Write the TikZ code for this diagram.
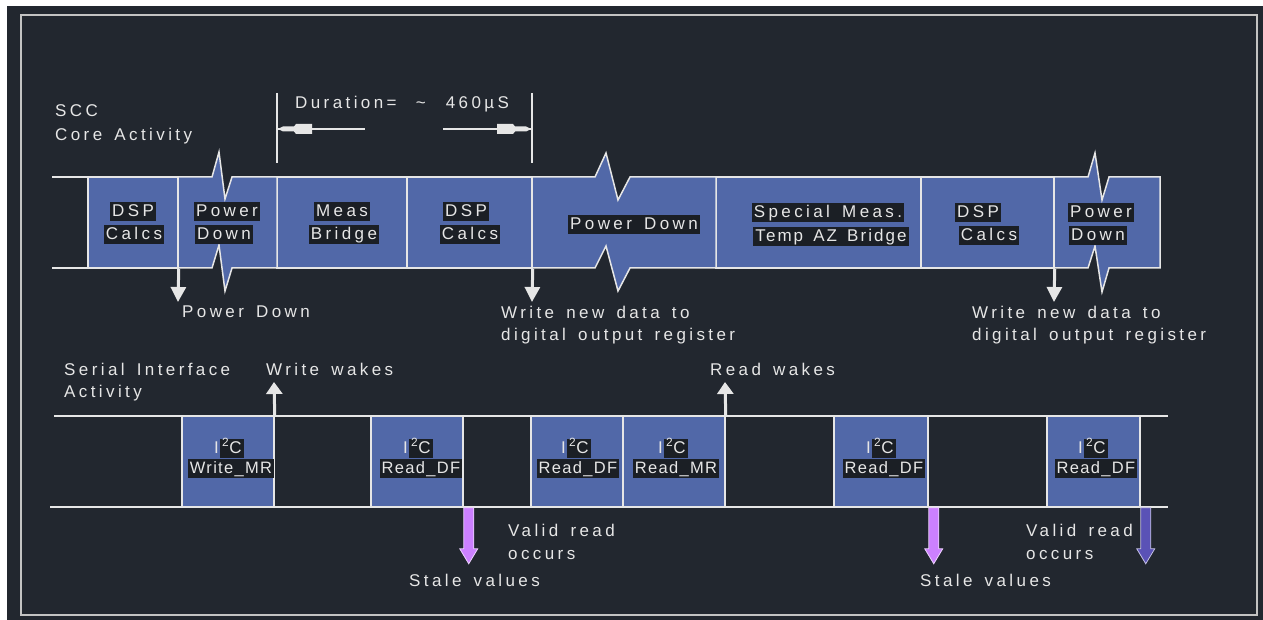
\documentclass[tikz,border=0pt]{standalone}
\usepackage{fontspec}
\setmainfont{Liberation Sans}[LetterSpace=20,WordSpace=1.5]
\usetikzlibrary{arrows.meta,calc}
\definecolor{bgc}{RGB}{34,39,47}
\definecolor{boxc}{RGB}{81,104,168}
\definecolor{maskc}{RGB}{27,31,37}
\definecolor{linec}{RGB}{230,230,230}
\definecolor{framec}{RGB}{195,195,195}
\definecolor{stalec}{RGB}{204,128,255}
\definecolor{validc}{RGB}{90,82,182}
\tikzset{
 lbl/.style={text=linec, font=\fontsize{17}{20}\selectfont, inner sep=0pt, text height=12pt, text depth=2pt},
 mlbl/.style={lbl, fill=maskc, inner xsep=2pt, inner ysep=2.5pt},
 slbl/.style={mlbl, font=\fontsize{16.5}{20}\selectfont\addfontfeature{LetterSpace=8}},
 ln/.style={draw=linec, line width=1.5pt},
 thinln/.style={draw=linec, line width=1.2pt},
 blk/.style={ln, fill=boxc, inner sep=0pt},
 downarr/.style={draw=linec, line width=3pt, -{Triangle[width=15pt,length=15pt]}},
 uparr/.style={draw=linec, line width=3pt, -{Triangle[width=16pt,length=12pt]}},
 fatarr/.style={line width=0.8pt, line join=miter},
}
\newcommand\iic[3]{%
 \node[lbl,anchor=base east] (#1i) at (#2-9,#3) {I};
 \node[mlbl,anchor=base west] (#1c) at (#2-8,#3) {\textsuperscript{2}C};}
\begin{document}
\begin{tikzpicture}[x=1pt,y=-1pt]
\useasboundingbox (0,0) rectangle (1263,620);
\fill[white] (0,0) rectangle (1263,620);
\fill[bgc] (7,6) rectangle (1263,620);
\draw[framec, line width=2pt] (21,15) rectangle (1257,615);

% ---------- SCC core activity ----------
\node[lbl,anchor=base west] (scc) at (55,117) {SCC};
\node[lbl,anchor=base west] (core) at (55,141) {Core Activity};

% duration marker
\draw[thinln] (277,93) -- (277,163);
\draw[thinln] (532,93) -- (532,163);
\node[lbl,anchor=base west] (dur) at (295,109) {Duration=\hspace{7pt} \textasciitilde{}\hspace{8pt} 460µS};
\draw[thinln] (277,129) -- (365,129);
\draw[thinln] (443,129) -- (532,129);
\fill[linec] (278,129) -- (283,126.5) -- (294,126.5) -- (296,124) -- (312,124) -- (312,134) -- (296,134) -- (294,131.5) -- (283,131.5) -- cycle;
\fill[linec] (531,129) -- (526,126.5) -- (515,126.5) -- (513,124) -- (497,124) -- (497,134) -- (513,134) -- (515,131.5) -- (526,131.5) -- cycle;

% band stubs
\draw[ln] (52,177) -- (88,177);
\draw[ln] (52,268) -- (88,268);

% plain boxes
\node[blk, minimum width=90pt, minimum height=91pt] (t1) at (133,222.5) {};
\node[blk, minimum width=130pt, minimum height=91pt] (t3) at (342,222.5) {};
\node[blk, minimum width=125pt, minimum height=91pt] (t4) at (469.5,222.5) {};
\node[blk, minimum width=205pt, minimum height=91pt] (t6) at (818.5,222.5) {};
\node[blk, minimum width=133pt, minimum height=91pt] (t7) at (987.5,222.5) {};
% power-down boxes with break marks
\draw[blk, line join=miter] (178,177) -- (212,177) -- (219,152) -- (225,199) -- (232,177) -- (277,177) -- (277,268) -- (232,268) -- (225,291) -- (219,245) -- (212,268) -- (178,268) -- cycle;
\draw[blk, line join=miter] (532,177) -- (595,177) -- (606,153) -- (618,200) -- (630,177) -- (716,177) -- (716,268) -- (630,268) -- (618,291) -- (606,246) -- (595,268) -- (532,268) -- cycle;
\draw[blk, line join=miter] (1054,177) -- (1088,177) -- (1095,153) -- (1102,200) -- (1109,177) -- (1160,177) -- (1160,268) -- (1109,268) -- (1102,292) -- (1095,246) -- (1088,268) -- (1054,268) -- cycle;

% box labels
\node[mlbl,anchor=base] (l1a) at (133,217) {DSP};
\node[mlbl,anchor=base] (l1b) at (134,240) {Calcs};
\node[mlbl,anchor=base] (l2a) at (227,217) {Power};
\node[mlbl,anchor=base] (l2b) at (224,240) {Down};
\node[mlbl,anchor=base] (l3a) at (342,217) {Meas};
\node[mlbl,anchor=base] (l3b) at (344,240) {Bridge};
\node[mlbl,anchor=base] (l4a) at (466,217) {DSP};
\node[mlbl,anchor=base] (l4b) at (470,240) {Calcs};
\node[mlbl,anchor=base] (l5) at (634,230) {Power Down};
\node[mlbl,anchor=base] (l6a) at (828,218) {Special Meas.};
\node[mlbl,anchor=base, font=\fontsize{17}{20}\selectfont\addfontfeature{LetterSpace=12}] (l6b) at (831,242) {Temp AZ Bridge};
\node[mlbl,anchor=base] (l7a) at (978,218) {DSP};
\node[mlbl,anchor=base] (l7b) at (989,241) {Calcs};
\node[mlbl,anchor=base] (l8a) at (1101,218) {Power};
\node[mlbl,anchor=base] (l8b) at (1098,241) {Down};

% down arrows and notes
\coordinate (d1) at (178,302);
\coordinate (d2) at (532,302);
\coordinate (d3) at (1054,302);
\draw[downarr] (t1.south east) -- (d1);
\draw[downarr] (t4.south east) -- (d2);
\draw[downarr] (t7.south east) -- (d3);
\node[lbl,anchor=base west] (n1) at (182,317) {Power Down};
\node[lbl,anchor=base west] (n2a) at (501,318) {Write new data to};
\node[lbl,anchor=base west] (n2b) at (501,340) {digital output register};
\node[lbl,anchor=base west] (n3a) at (972,318) {Write new data to};
\node[lbl,anchor=base west] (n3b) at (972,340) {digital output register};

% ---------- Serial interface activity ----------
\node[lbl,anchor=base west] (sia) at (64,375) {Serial Interface};
\node[lbl,anchor=base west] (sib) at (64,397) {Activity};
\node[lbl,anchor=base west] (ww) at (266,375) {Write wakes};
\node[lbl,anchor=base west] (rw) at (710,375) {Read wakes};

\draw[ln] (54,416) -- (1168,416);
\draw[ln] (50,507) -- (1168,507);

\node[blk, minimum width=92pt, minimum height=91pt] (b1) at (228,461.5) {};
\node[blk, minimum width=92pt, minimum height=91pt] (b2) at (417,461.5) {};
\node[blk, minimum width=92pt, minimum height=91pt] (b3) at (577,461.5) {};
\node[blk, minimum width=102pt, minimum height=91pt] (b4) at (674,461.5) {};
\node[blk, minimum width=94pt, minimum height=91pt] (b5) at (881,461.5) {};
\node[blk, minimum width=93pt, minimum height=91pt] (b6) at (1093.5,461.5) {};

\iic{c1}{228}{453}
\iic{c2}{417}{453}
\iic{c3}{575}{453}
\iic{c4}{672}{453}
\iic{c5}{880}{453}
\iic{c6}{1092}{453}
\node[slbl,anchor=base] (w1) at (231,473) {Write\_MR};
\node[slbl,anchor=base] (w2) at (421,473) {Read\_DF};
\node[slbl,anchor=base] (w3) at (578,473) {Read\_DF};
\node[slbl,anchor=base] (w4) at (676,473) {Read\_MR};
\node[slbl,anchor=base] (w5) at (884,473) {Read\_DF};
\node[slbl,anchor=base] (w6) at (1096,473) {Read\_DF};

\coordinate (u1) at (274,382);
\coordinate (u2) at (725,382);
\draw[uparr] (b1.north east) -- (u1);
\draw[uparr] (b4.north east) -- (u2);

% read arrows
\draw[fatarr, draw=stalec!35!white, fill=stalec] (b2.south east) -- ++(10,0) -- ++(0,41) -- ++(4,0) -- ++(-9,15) -- ++(-9,-15) -- ++(4,0) -- cycle;
\draw[fatarr, draw=stalec!35!white, fill=stalec] (b5.south east) -- ++(10,0) -- ++(0,41) -- ++(4,0) -- ++(-9,15) -- ++(-9,-15) -- ++(4,0) -- cycle;
\draw[fatarr, draw=validc!35!white, fill=validc] (b6.south east) -- ++(10,0) -- ++(0,41) -- ++(4,0) -- ++(-9,15) -- ++(-9,-15) -- ++(4,0) -- cycle;

\node[lbl,anchor=base west] (v1a) at (508,536) {Valid read};
\node[lbl,anchor=base west] (v1b) at (508,559) {occurs};
\node[lbl,anchor=base west] (s1) at (409,586) {Stale values};
\node[lbl,anchor=base west] (s2) at (920,586) {Stale values};
\node[lbl,anchor=base west] (v2a) at (1026,536) {Valid read};
\node[lbl,anchor=base west] (v2b) at (1026,559) {occurs};
\end{tikzpicture}
\end{document}
